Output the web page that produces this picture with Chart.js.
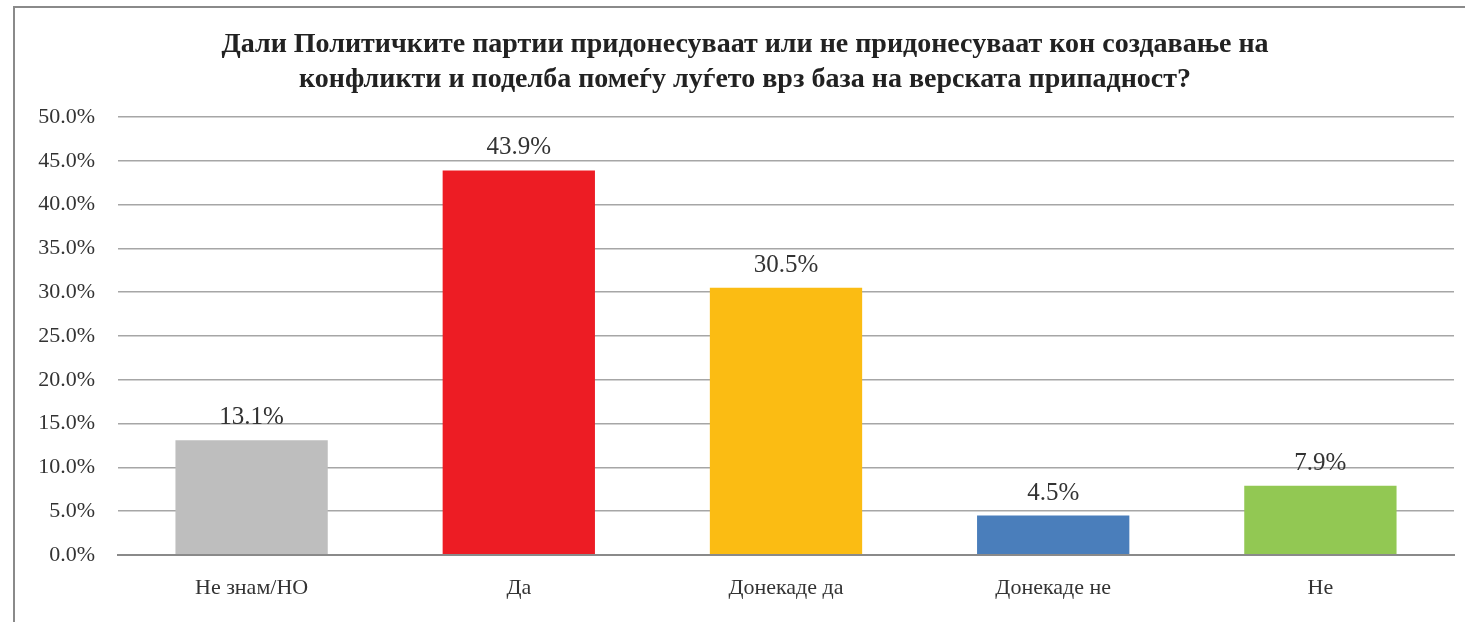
<!DOCTYPE html>
<html>
<head>
<meta charset="utf-8">
<script src="https://cdn.jsdelivr.net/npm/chart.js"></script>
<style>
  html, body { margin: 0; padding: 0; background: #fff; }
  #frame {
    position: absolute; left: 13px; top: 6px; width: 1452px; height: 616px;
    border-left: 2px solid #8a8a8a; border-top: 2px solid #8a8a8a;
  }
  #wrap { position: absolute; left: 0; top: 0; width: 1465px; height: 622px; }
</style>
</head>
<body>
<div id="frame"></div>
<div id="wrap"><canvas id="visualization"></canvas></div>
<script>
const titleLines = [
    'Дали Политичките партии придонесуваат или не придонесуваат кон создавање на',
    'конфликти и поделба помеѓу луѓето врз база на верската припадност?'
];
const categories = ['Не знам/НО', 'Да', 'Донекаде да', 'Донекаде не', 'Не'];
const values = [13.1, 43.9, 30.5, 4.5, 7.9];
const barColors = ['#bebebe', '#ed1c24', '#fbbc13', '#4a7ebb', '#92c853'];

const serif = "'Liberation Serif', 'DejaVu Serif', serif";

const valueLabels = {
    id: 'valueLabels',
    afterDatasetsDraw(chart) {
        const ctx = chart.ctx;
        const meta = chart.getDatasetMeta(0);
        ctx.save();
        ctx.font = '25px ' + serif;
        ctx.fillStyle = '#333';
        ctx.textAlign = 'center';
        ctx.textBaseline = 'alphabetic';
        meta.data.forEach((bar, i) => {
            ctx.fillText(values[i].toFixed(1) + '%', bar.x, bar.y - 16);
        });
        ctx.restore();
    }
};

function create_chart(ele) {
    const config = {
        type: 'bar',
        data: {
            labels: categories,
            datasets: [{
                data: values,
                backgroundColor: barColors,
                borderWidth: 0,
                barPercentage: 0.57,
                categoryPercentage: 1.0,
            }]
        },
        options: {
            responsive: true,
            maintainAspectRatio: false,
            animation: false,
            layout: { padding: { left: 36, right: 11, top: 0, bottom: 0 } },
            plugins: {
                legend: { display: false },
                tooltip: { enabled: false },
                title: {
                    display: true,
                    text: titleLines,
                    color: '#222',
                    font: { family: serif, size: 28, weight: 'bold', lineHeight: 1.25 },
                    padding: { top: 27, bottom: 20 },
                }
            },
            scales: {
                x: {
                    grid: { display: false, drawTicks: false },
                    border: { display: true, color: '#8a8a8a', width: 2 },
                    ticks: {
                        color: '#333',
                        font: { family: serif, size: 22 },
                        padding: 20,
                    },
                    afterFit(scale) { scale.height = 67; }
                },
                y: {
                    min: 0,
                    max: 50,
                    ticks: {
                        stepSize: 5,
                        color: '#333',
                        font: { family: serif, size: 22 },
                        padding: 23,
                        callback: (v) => v.toFixed(1) + '%',
                    },
                    grid: {
                        drawTicks: false,
                        color: (c) => c.tick && c.tick.value === 0 ? '#8a8a8a' : '#a6a6a6',
                        lineWidth: (c) => c.tick && c.tick.value === 0 ? 2 : 1.5,
                    },
                    border: { display: false },
                    afterFit(scale) { scale.width = 82; }
                }
            }
        },
        plugins: [valueLabels]
    };
    return new Chart(ele, config);
}

create_chart(document.getElementById('visualization'));
</script>
</body>
</html>
